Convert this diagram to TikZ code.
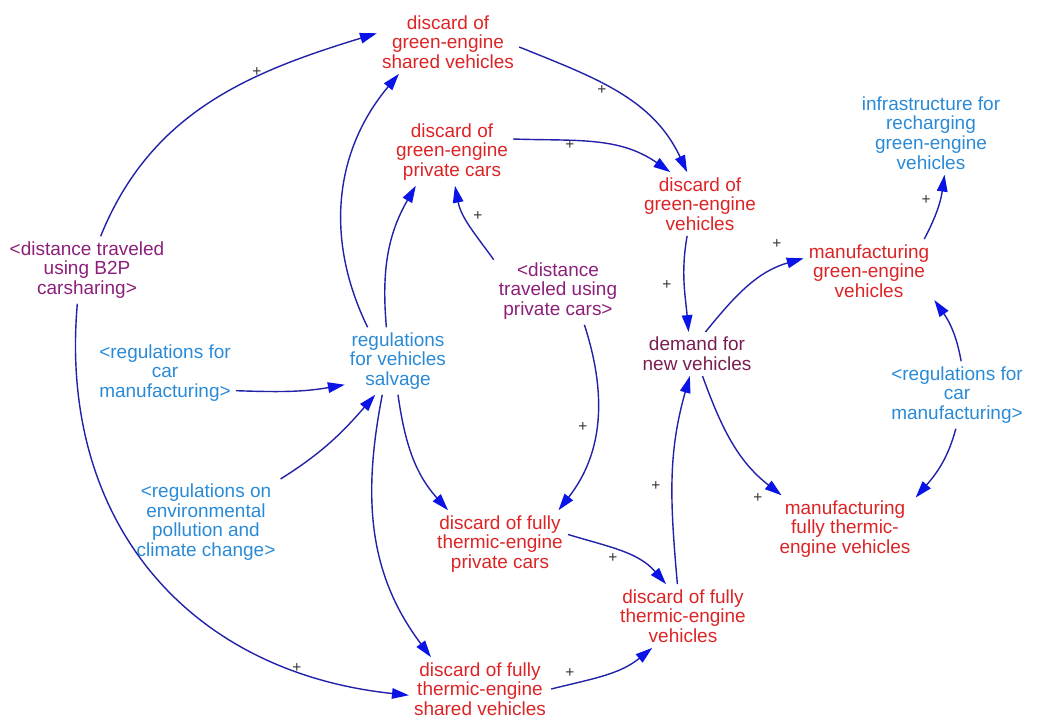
\documentclass[tikz,border=0pt]{standalone}
\usepackage{fontspec}
\setmainfont{Liberation Sans}
\usepackage{xcolor}
\usepackage{tikz}
\usetikzlibrary{arrows.meta}
\definecolor{varred}{HTML}{DC2426}
\definecolor{regblue}{HTML}{2A8AD6}
\definecolor{shadowpurple}{HTML}{8C1F7A}
\definecolor{demandcolor}{HTML}{7A1D50}
\definecolor{linkblue}{HTML}{2222A8}
\definecolor{headblue}{HTML}{0A14E6}
\tikzset{
  var/.style={align=center, inner sep=3.5pt, font=\fontsize{13.5}{14}\selectfont},
  redvar/.style={var, text=varred},
  bluevar/.style={var, text=regblue},
  shadowvar/.style={var, text=shadowpurple},
  demandvar/.style={var, text=demandcolor},
  link/.style={draw=linkblue, line width=1pt, -{Triangle[length=12pt,width=7.5pt,color=headblue]}},
  sign/.style={inner sep=0pt, font=\fontsize{11}{11}\selectfont, text=black!80}
}

\begin{document}
\begin{tikzpicture}[x=0.025cm, y=0.025cm]%
\useasboundingbox (0,0) rectangle (1062,-718);%
% variables
\node[redvar] (gsv) at (448,-42) {discard of\\green-engine\\shared vehicles};%
\node[redvar] (gpc) at (452,-152) {discard of\\green-engine\\private cars};%
\node[redvar] (gv) at (700,-204) {discard of\\green-engine\\vehicles};%
\node[bluevar] (infra) at (931,-133) {infrastructure for\\recharging\\green-engine\\vehicles};%
\node[redvar] (mgv) at (869,-271) {manufacturing\\green-engine\\vehicles};%
\node[shadowvar] (b2p) at (87,-270) {<distance traveled\\using B2P\\carsharing>};%
\node[shadowvar] (dpc) at (558,-291) {<distance\\traveled using\\private cars>};%
\node[demandvar] (demand) at (697,-354) {demand for\\new vehicles};%
\node[bluevar] (rvs) at (398,-361) {regulations\\for vehicles\\salvage};%
\node[bluevar] (rcm1) at (165,-373) {<regulations for\\car\\manufacturing>};%
\node[bluevar] (rcm2) at (957,-395) {<regulations for\\car\\manufacturing>};%
\node[bluevar] (rep) at (206,-522) {<regulations on\\environmental\\pollution and\\climate change>};%
\node[redvar] (ftpc) at (500,-544) {discard of fully\\thermic-engine\\private cars};%
\node[redvar] (mft) at (845,-529) {manufacturing\\fully thermic-\\engine vehicles};%
\node[redvar] (ftv) at (683,-616) {discard of fully\\thermic-engine\\vehicles};%
\node[redvar] (ftsv) at (480,-689) {discard of fully\\thermic-engine\\shared vehicles};%
% causal links
\draw[link] (b2p.68) to[out=68, in=197] (gsv.173);%
\draw[link] (b2p.254) to[out=265, in=174, looseness=1.1] (ftsv.185);%
\draw[link] (rvs.132) to[out=116, in=230] (gsv.213);%
\draw[link] (rvs.109) to[out=95, in=240] (gpc.223);%
\draw[link] (dpc.154) to[out=126, in=281] (gpc.275);%
\draw[link] (gsv.-4) to[out=-22, in=115] (gv.112);%
\draw[link] (gpc.12) to[out=-2, in=145] (gv.133);%
\draw[link] (gv.248) to[out=260, in=95] (demand.111);%
\draw[link] (demand.69) to[out=51, in=196] (mgv.169);%
\draw[link] (mgv.30) to[out=62, in=262] (infra.288);%
\draw[link] (rcm2.83) to[out=100, in=305] (mgv.-24);%
\draw[link] (rcm2.268) to[out=255, in=49] (mft.24);%
\draw[link] (demand.284) to[out=290, in=142] (mft.152);%
\draw[link] (dpc.308) to[out=288, in=52] (ftpc.30);%
\draw[link] (rvs.270) to[out=278, in=132] (ftpc.147);%
\draw[link] (rvs.245) to[out=259, in=127] (ftsv.147);%
\draw[link] (rcm1.-14) to[out=-2, in=190] (rvs.204);%
\draw[link] (rep.30) to[out=32, in=229] (rvs.236);%
\draw[link] (ftpc.8) to[out=-17, in=131] (ftv.118);%
\draw[link] (ftv.100) to[out=95, in=254] (demand.252);%
\draw[link] (ftsv.0) to[out=14, in=219] (ftv.226);%
% polarity signs
\node[sign] (s1) at (257,-72) {+};%
\node[sign] (s2) at (297,-668) {+};%
\node[sign] (s3) at (478,-216) {+};%
\node[sign] (s4) at (602,-90) {+};%
\node[sign] (s5) at (570,-145) {+};%
\node[sign] (s6) at (667,-285) {+};%
\node[sign] (s7) at (777,-244) {+};%
\node[sign] (s8) at (926,-200) {+};%
\node[sign] (s9) at (758,-498) {+};%
\node[sign] (s10) at (583,-427) {+};%
\node[sign] (s11) at (613,-558) {+};%
\node[sign] (s12) at (656,-486) {+};%
\node[sign] (s13) at (570,-673) {+};%
\end{tikzpicture}
\end{document}
